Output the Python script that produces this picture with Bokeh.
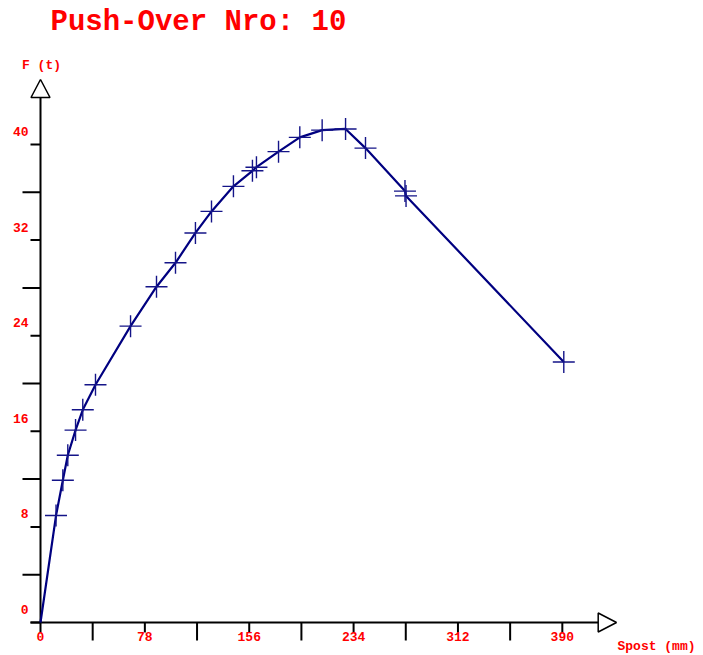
from bokeh.plotting import figure
from bokeh.models import Range1d, Label
from bokeh.core.properties import value
from bokeh.embed import file_html
from bokeh.resources import INLINE

# Push-over curve: top displacement (mm) against base force (t)
spost = [0, 11.6, 16.7, 20.4, 26.2, 31.6, 41.1, 67.3, 86.7, 100.9, 115.8,
         127.8, 144.2, 158.4, 161.4, 177.9, 193.8, 210.5, 228.0, 242.9,
         272.4, 273.2, 391.1]
forza = [0, 8.95, 11.9, 14.0, 16.1, 17.8, 19.9, 24.8, 28.1, 30.1, 32.6,
         34.4, 36.5, 37.8, 38.1, 39.4, 40.6, 41.2, 41.3, 39.7,
         36.1, 35.7, 21.8]

x_ticks = [0, 39, 78, 117, 156, 195, 234, 273, 312, 351, 390]
x_labels = ["0", "78", "156", "234", "312", "390"]
y_ticks = [0, 4, 8, 12, 16, 20, 24, 28, 32, 36, 40]
y_labels = ["0", "8", "16", "24", "32", "40"]

title_text = "Push-Over Nro: 10"
x_title = "Spost (mm)"
y_title = "F (t)"

W, H = 703, 655
OX, OY = 40, 622          # origin on the canvas (px)
KX, KY = 1.338, 11.95     # px per mm, px per t

def dx(px):
    return px / KX

def dy(px):
    return px / KY

p = figure(width=W, height=H, output_backend="svg", toolbar_location=None,
           x_range=Range1d(-OX / KX, (W - OX) / KX),
           y_range=Range1d(-(H - OY) / KY, OY / KY),
           min_border=0, outline_line_color=None)
p.axis.visible = False
p.grid.visible = False
p.background_fill_color = "white"
p.border_fill_color = "white"

FONT = value("Liberation Mono")
RED = "#ff0000"
AX = "black"

# axis extents
x_end = dx(597.7 - OX)
y_end = dy(OY - 97)

p.line([dx(-10), x_end], [0, 0], line_color=AX, line_width=2)
p.line([0, 0], [0, y_end], line_color=AX, line_width=2)

# arrow heads
p.patch([x_end, x_end, dx(616 - OX)], [dy(9.5), dy(-9.5), 0],
        fill_color="white", line_color=AX, line_width=1.5)
p.patch([dx(-9.5), dx(9.5), 0], [y_end, y_end, dy(OY - 79)],
        fill_color="white", line_color=AX, line_width=1.5)

# ticks: labelled ones short, intermediate ones long
def tick_len(i):
    return 10 if i % 2 == 0 else 18

p.segment(x0=x_ticks, y0=[0] * len(x_ticks), x1=x_ticks,
          y1=[-dy(tick_len(i)) for i in range(len(x_ticks))],
          line_color=AX, line_width=2)
p.segment(x0=[0] * len(y_ticks), y0=y_ticks,
          x1=[-dx(tick_len(i)) for i in range(len(y_ticks))], y1=y_ticks,
          line_color=AX, line_width=2)

# tick labels
p.text(x=x_ticks[::2], y=[-dy(14)] * len(x_labels), text=x_labels,
       text_font=FONT, text_font_style="bold", text_font_size="13px",
       text_color=RED, text_align="center", text_baseline="middle")
p.text(x=[-dx(12)] * len(y_labels), y=[v + dy(13) for v in y_ticks[::2]],
       text=y_labels, text_font=FONT, text_font_style="bold",
       text_font_size="13px", text_color=RED, text_align="right",
       text_baseline="middle")

# axis titles
p.text(x=[dx(1)], y=[dy(OY - 65)], text=[y_title], text_font=FONT,
       text_font_style="bold", text_font_size="13px", text_color=RED,
       text_align="center", text_baseline="middle")
p.text(x=[dx(617 - OX)], y=[-dy(24)], text=[x_title], text_font=FONT,
       text_font_style="bold", text_font_size="13px", text_color=RED,
       text_align="left", text_baseline="middle")

# curve and its points
p.line(spost, forza, line_color="#000080", line_width=2.2)
p.scatter(spost[1:], forza[1:], marker="cross", size=22,
          line_color="#141488", line_width=1.4)

p.add_layout(Label(x=50, y=H - 22, x_units="screen", y_units="screen",
                   text=title_text, text_font="Liberation Mono",
                   text_font_style="bold", text_font_size="29px",
                   text_color=RED, text_baseline="middle"))

open("out.html", "w").write(file_html(p, INLINE))
